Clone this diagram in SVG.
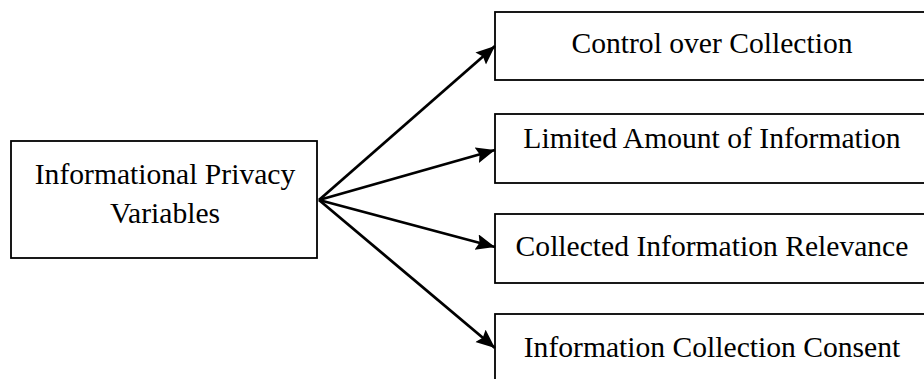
<svg xmlns="http://www.w3.org/2000/svg" width="924" height="379" viewBox="0 0 924 379">
<style>
.box{fill:#fff;stroke:#000;stroke-width:1.8}
.t{font-family:"Liberation Serif","Times New Roman",serif;font-size:29.6px;fill:#000;text-anchor:middle}
.c{stroke:#000;stroke-width:2.8;fill:none}
</style>
<defs>
<marker id="ah" markerUnits="userSpaceOnUse" markerWidth="24" markerHeight="18" refX="19" refY="8" orient="auto">
<path d="M0,0 L19,8 L0,16 L3,8 Z" fill="#000"/>
</marker>
</defs>
<rect width="924" height="379" fill="#fff"/>
<g id="n0">
<rect class="box" x="11" y="141" width="306" height="117"/>
<text class="t" x="165" y="184">Informational Privacy</text>
<text class="t" x="165" y="223">Variables</text>
</g>
<g id="n1">
<rect class="box" x="495" y="12" width="434" height="68"/>
<text class="t" x="712" y="53">Control over Collection</text>
</g>
<g id="n2">
<rect class="box" x="495" y="114" width="434" height="69"/>
<text class="t" x="712" y="148">Limited Amount of Information</text>
</g>
<g id="n3">
<rect class="box" x="495" y="214" width="434" height="69"/>
<text class="t" x="712" y="256">Collected Information Relevance</text>
</g>
<g id="n4">
<rect class="box" x="495" y="314" width="434" height="80"/>
<text class="t" x="712" y="357">Information Collection Consent</text>
</g>
<g id="connectors">
<line class="c" x1="319" y1="200" x2="495" y2="46" marker-end="url(#ah)"/>
<line class="c" x1="319" y1="200" x2="495" y2="150" marker-end="url(#ah)"/>
<line class="c" x1="319" y1="200" x2="495" y2="247" marker-end="url(#ah)"/>
<line class="c" x1="319" y1="200" x2="495" y2="348" marker-end="url(#ah)"/>
</g>
</svg>
